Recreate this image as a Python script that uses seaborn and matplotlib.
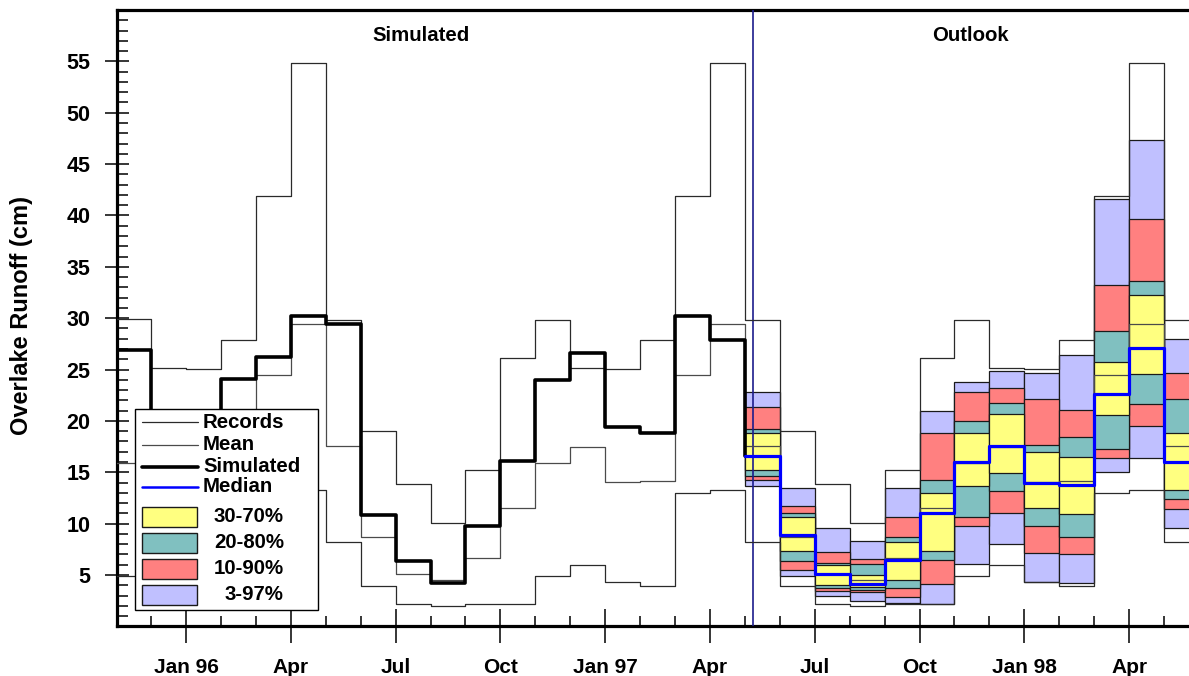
import numpy as np
import pandas as pd
import matplotlib
matplotlib.use("Agg")
import matplotlib.pyplot as plt
import seaborn as sns
from matplotlib.patches import Rectangle
from matplotlib.lines import Line2D

# ---------------- data (month index: 0 = start of January 1996) ----------------
months = list(range(-2, 29))          # Nov 1995 ... May 1998
record_max = [29.9, 25.2, 25.1, 27.9, 41.9, 54.8, 29.8, 19.0, 13.9, 10.1, 15.2, 26.1,
              29.8, 25.2, 25.1, 27.9, 41.9, 54.8, 29.8, 19.0, 13.9, 10.1, 15.2, 26.1,
              29.8, 25.2, 25.1, 27.9, 41.9, 54.8, 29.8]
record_min = [4.9, 6.0, 4.3, 3.9, 13.0, 13.3, 8.2, 3.9, 2.15, 2.0, 2.15, 2.2,
              4.9, 6.0, 4.3, 3.9, 13.0, 13.3, 8.2, 3.9, 2.15, 2.0, 2.15, 2.2,
              4.9, 6.0, 4.3, 3.9, 13.0, 13.3, 8.2]
mean_runoff = [15.9, 17.5, 14.05, 14.2, 24.5, 29.4, 17.6, 8.7, 5.1, 4.5, 6.7, 11.5,
               15.9, 17.5, 14.05, 14.2, 24.5, 29.4, 17.6, 8.7, 5.1, 4.5, 6.7, 11.5,
               15.9, 17.5, 14.05, 14.2, 24.5, 29.4, 17.6]

sim_months = list(range(-2, 16))      # Nov 1995 ... Apr 1997
simulated = [26.9, 17.0, 15.5, 24.1, 26.2, 30.2, 29.4, 10.8, 6.4, 4.2, 9.8, 16.1,
             24.0, 26.6, 19.4, 18.8, 30.2, 27.9]

out_months = list(range(16, 29))      # May 1997 ... May 1998
median = [16.6, 8.85, 5.1, 4.12, 6.46, 11.0, 16.02, 17.6, 13.98, 13.78, 22.6, 27.08, 15.96]
q03 = [13.66, 4.9, 2.96, 2.5, 2.25, 2.18, 6.07, 8.02, 4.35, 4.19, 14.99, 16.41, 9.54]
q10 = [14.24, 5.49, 3.44, 3.35, 2.83, 4.12, 9.77, 11.06, 7.17, 7.04, 16.35, 19.53, 11.39]
q20 = [14.63, 6.39, 3.7, 3.55, 3.7, 6.46, 10.67, 13.2, 9.77, 8.7, 17.23, 21.63, 12.36]
q30 = [15.21, 7.37, 4.03, 3.8, 4.51, 7.37, 13.69, 14.89, 11.49, 10.95, 20.57, 24.55, 13.27]
q70 = [18.78, 10.61, 5.97, 5.0, 8.24, 12.94, 18.78, 20.66, 17.0, 16.45, 25.75, 32.24, 18.85]
q80 = [19.2, 11.0, 6.2, 6.07, 8.73, 14.24, 20.0, 21.7, 17.65, 18.46, 28.77, 33.6, 22.09]
q90 = [21.31, 11.71, 7.27, 6.53, 10.61, 18.85, 22.77, 23.16, 22.09, 21.1, 33.2, 39.66, 24.68]
q97 = [22.83, 13.43, 9.54, 8.34, 13.43, 20.98, 23.8, 24.85, 24.62, 26.4, 41.64, 47.3, 27.96]

tick_months = [0, 3, 6, 9, 12, 15, 18, 21, 24, 27]
tick_labels = ["Jan 96", "Apr", "Jul", "Oct", "Jan 97", "Apr", "Jul", "Oct", "Jan 98", "Apr"]
band_labels = ["30-70%", "20-80%", "10-90%", "3-97%"]
forecast_start = 16.23

# ---------------- style ----------------
sns.set_theme(style="white")
plt.rcParams["font.family"] = ["Liberation Sans", "DejaVu Sans"]
plt.rcParams["font.weight"] = "bold"
for k in ["text.color", "axes.labelcolor", "xtick.color", "ytick.color", "axes.edgecolor"]:
    plt.rcParams[k] = "black"

C_YEL, C_TEAL, C_RED, C_LAV = "#FFFF80", "#80C0C0", "#FF8080", "#C0C0FF"

W, H = 1189, 676
fig = plt.figure(figsize=(W / 100, H / 100), dpi=100)
AX_L, AX_R, AX_T, AX_B = 117, 1189, 10, 626.4
ax = fig.add_axes([AX_L / W, (H - AX_B) / H, (AX_R - AX_L) / W, (AX_B - AX_T) / H])
ax.set_facecolor("white")

X0, X1 = (117 - 186) / 34.93, (1189 - 186) / 34.93
ax.set_xlim(X0, X1)
ax.set_ylim(0, 60)


def edges(ms, vals):
    xs = list(ms) + [ms[-1] + 1]
    ys = list(vals) + [vals[-1]]
    return xs, ys


# percentile boxes
bands = [(q03, q97, C_LAV), (q10, q90, C_RED), (q20, q80, C_TEAL), (q30, q70, C_YEL)]
for lo, hi, col in bands:
    ax.bar(out_months, np.array(hi) - np.array(lo), bottom=lo, width=1.0, align="edge",
           color=col, edgecolor="#1a1a1a", linewidth=0.9, zorder=2)

ax.axvline(forecast_start, color="#1c1c8c", lw=1.2, zorder=3.5)

# records and mean
for vals, col in [(record_max, "#2a2a2a"), (record_min, "#2a2a2a"), (mean_runoff, "#4a4a4a")]:
    xs, ys = edges(months, vals)
    sns.lineplot(x=xs, y=ys, ax=ax, drawstyle="steps-post", color=col, linewidth=0.9,
                 errorbar=None, sort=False, zorder=4)

# simulated (drops to first median value at forecast start)
sx = sim_months + [out_months[0]]
sy = simulated + [median[0]]
sns.lineplot(x=sx, y=sy, ax=ax, drawstyle="steps-post", color="black", linewidth=2.6,
             errorbar=None, sort=False, zorder=5)

# median
mx, my = edges(out_months, median)
sns.lineplot(x=mx, y=my, ax=ax, drawstyle="steps-post", color="#0000FF", linewidth=2.3,
             errorbar=None, sort=False, zorder=6)

# ---------------- axes ----------------
for s in ["left", "bottom", "top"]:
    ax.spines[s].set_visible(True)
    ax.spines[s].set_linewidth(2.3)
    ax.spines[s].set_color("black")
ax.spines["right"].set_visible(False)

ax.set_xticks(tick_months)
ax.set_xticklabels(tick_labels)
ax.set_xticks(range(-1, 29), minor=True)
ax.set_yticks(range(5, 60, 5))
ax.set_yticks(range(1, 60), minor=True)
ax.tick_params(axis="x", which="major", direction="inout", length=24, width=1.1,
               color="black", labelcolor="black", pad=11, labelsize=15, bottom=True)
ax.tick_params(axis="x", which="minor", direction="in", length=7, width=1.1,
               color="black", bottom=True)
ax.tick_params(axis="y", which="major", direction="inout", length=17, width=1.1,
               color="black", labelcolor="black", pad=10.5, labelsize=15.5, left=True)
ax.tick_params(axis="y", which="minor", direction="in", length=8, width=1.1,
               color="black", left=True)
for lab in ax.get_xticklabels() + ax.get_yticklabels():
    lab.set_fontweight("bold")
    lab.set_color("black")
ax.set_xlabel("")
ax.set_ylabel("Overlake Runoff (cm)", fontsize=17, fontweight="bold", color="black")
ax.yaxis.set_label_coords((33 - AX_L) / (AX_R - AX_L), 0.5036)

ax.text(6.73, 57.5, "Simulated", ha="center", va="center", fontsize=14.7,
        fontweight="bold", color="black")
ax.text(22.45, 57.5, "Outlook", ha="center", va="center", fontsize=14.7,
        fontweight="bold", color="black")


# ---------------- legend (drawn in axes fraction) ----------------
def px(xp, yp):
    return (xp - AX_L) / (AX_R - AX_L), (AX_B - yp) / (AX_B - AX_T)


fx0, fy0 = px(135, 610)
fx1, fy1 = px(318, 409)
ax.add_patch(Rectangle((fx0, fy0), fx1 - fx0, fy1 - fy0, transform=ax.transAxes,
                       facecolor="white", edgecolor="black", linewidth=1.0, zorder=10,
                       clip_on=False))
line_entries = [("Records", "#2a2a2a", 0.9, 422), ("Mean", "#4a4a4a", 0.9, 445),
                ("Simulated", "black", 2.6, 467), ("Median", "#0000FF", 1.8, 487)]
for lab, col, lw, yp in line_entries:
    a, b = px(142, yp)
    c, _ = px(198, yp)
    ax.add_line(Line2D([a, c], [b, b], transform=ax.transAxes, color=col, lw=lw,
                       zorder=11, clip_on=False))
    tx, ty = px(203, yp)
    ax.text(tx, ty, lab, transform=ax.transAxes, ha="left", va="center",
            fontsize=14.7, fontweight="bold", color="black", zorder=12)
patch_entries = [(band_labels[0], C_YEL, 506.7, 214), (band_labels[1], C_TEAL, 532.7, 214),
                 (band_labels[2], C_RED, 559, 214), (band_labels[3], C_LAV, 585, 225)]
for lab, col, ytop, tx_px in patch_entries:
    a, b = px(142, ytop + 20)
    c, d = px(197, ytop)
    ax.add_patch(Rectangle((a, b), c - a, d - b, transform=ax.transAxes, facecolor=col,
                           edgecolor="#1a1a1a", linewidth=1.0, zorder=11, clip_on=False))
    tx, ty = px(tx_px, ytop + 10)
    ax.text(tx, ty, lab, transform=ax.transAxes, ha="left", va="center",
            fontsize=14.7, fontweight="bold", color="black", zorder=12)

fig.savefig("out.png", dpi=100)
